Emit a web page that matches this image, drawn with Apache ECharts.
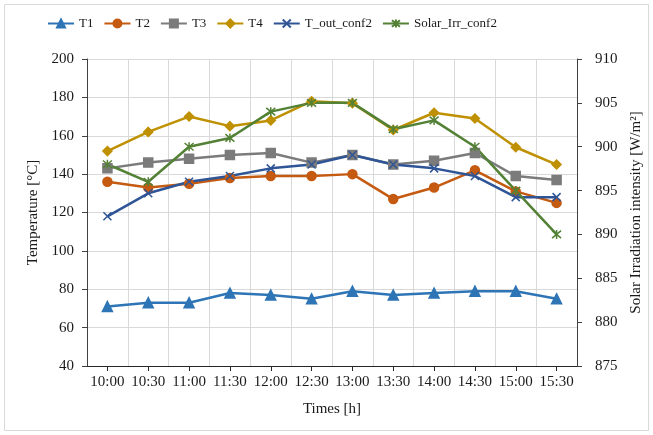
<!DOCTYPE html>
<html><head><meta charset="utf-8">
<script src="https://cdn.jsdelivr.net/npm/echarts@6/dist/echarts.min.js"></script>
<style>html,body{margin:0;padding:0;background:#fff}#c{width:653px;height:435px}</style>
</head><body><div id="c"></div>
<script>
var times = ['10:00','10:30','11:00','11:30','12:00','12:30','13:00','13:30','14:00','14:30','15:00','15:30'];
var T1 = [71, 73, 73, 78, 77, 75, 79, 77, 78, 79, 79, 75];
var T2 = [136, 133, 135, 138, 139, 139, 140, 127, 133, 142, 131, 125];
var T3 = [143, 146, 148, 150, 151, 146, 150, 145, 147, 151, 139, 137];
var T4 = [152, 162, 170, 165, 168, 178, 177, 163, 172, 169, 154, 145];
var Tout = [118, 130, 136, 139, 143, 145, 150, 145, 143, 139, 128, 128];
var Solar = [898, 896, 900, 901, 904, 905, 905, 902, 903, 900, 895, 890];
var leftTicks = {min: 40, max: 200, interval: 20};
var rightTicks = {min: 875, max: 910, interval: 5};

var FONT = 'Liberation Serif';
var txt = '#1a1a1a';
var crossPath = 'path://M0,0L10,10M10,0L0,10';
var starPath = 'path://M0,0L10,10M10,0L0,10M5,-1L5,11';

function mk(name, data, color, symbol, size, axis) {
  return {
    name: name, type: 'line', data: data, yAxisIndex: axis || 0,
    symbol: symbol, symbolSize: size,
    lineStyle: {color: color, width: 2.5},
    itemStyle: {color: color, borderColor: color, borderWidth: 1.5},
    emphasis: {disabled: true}, animation: false
  };
}

var chart = echarts.init(document.getElementById('c'), null, {renderer: 'canvas'});
chart.setOption({
  animation: false,
  graphic: [{type: 'rect', shape: {x: 4.5, y: 4.5, width: 644, height: 426}, style: {fill: 'none', stroke: '#d9d9d9', lineWidth: 1}, silent: true}],
  legend: {
    left: 42, top: 12, itemWidth: 26, itemHeight: 10, itemGap: 10,
    textStyle: {fontFamily: FONT, fontSize: 13, color: txt},
    data: ['T1','T2','T3','T4','T_out_conf2','Solar_Irr_conf2']
  },
  grid: {left: 87, right: 76, top: 59, bottom: 69, containLabel: false},
  xAxis: {
    type: 'category', data: times, boundaryGap: true,
    name: 'Times [h]', nameLocation: 'middle', nameGap: 36,
    nameTextStyle: {fontFamily: FONT, fontSize: 15, color: txt},
    axisLine: {lineStyle: {color: '#262626', width: 1}},
    axisTick: {show: true, alignWithLabel: true, length: 5, lineStyle: {color: '#262626'}},
    axisLabel: {fontFamily: FONT, fontSize: 15, color: txt, margin: 9, interval: 0},
    splitLine: {show: true, lineStyle: {color: '#d9d9d9', width: 1}}
  },
  yAxis: [{
    type: 'value', min: leftTicks.min, max: leftTicks.max, interval: leftTicks.interval,
    name: 'Temperature [°C]', nameLocation: 'middle', nameGap: 41, nameRotate: 90,
    nameTextStyle: {fontFamily: FONT, fontSize: 15, color: txt},
    axisLine: {show: true, lineStyle: {color: '#404040', width: 1}},
    axisTick: {show: true, length: 5, lineStyle: {color: '#404040'}},
    axisLabel: {fontFamily: FONT, fontSize: 15, color: txt, margin: 13},
    splitLine: {show: true, lineStyle: {color: '#d9d9d9', width: 1}}
  }, {
    type: 'value', min: rightTicks.min, max: rightTicks.max, interval: rightTicks.interval,
    position: 'right',
    name: 'Solar Irradiation intensity [W/m²]', nameLocation: 'middle', nameGap: 43, nameRotate: 90,
    nameTextStyle: {fontFamily: FONT, fontSize: 15, color: txt},
    axisLine: {show: true, lineStyle: {color: '#404040', width: 1}},
    axisTick: {show: true, length: 5, lineStyle: {color: '#404040'}},
    axisLabel: {fontFamily: FONT, fontSize: 15, color: txt, margin: 18},
    splitLine: {show: false}
  }],
  series: [
    mk('T1', T1, '#2E75B6', 'triangle', 10),
    mk('T2', T2, '#C55A11', 'circle', 9),
    mk('T3', T3, '#7B7B7B', 'rect', 9),
    mk('T4', T4, '#BF9000', 'diamond', 9),
    mk('T_out_conf2', Tout, '#2F5597', crossPath, 8),
    mk('Solar_Irr_conf2', Solar, '#538135', starPath, 9, 1)
  ]
});
</script></body></html>
